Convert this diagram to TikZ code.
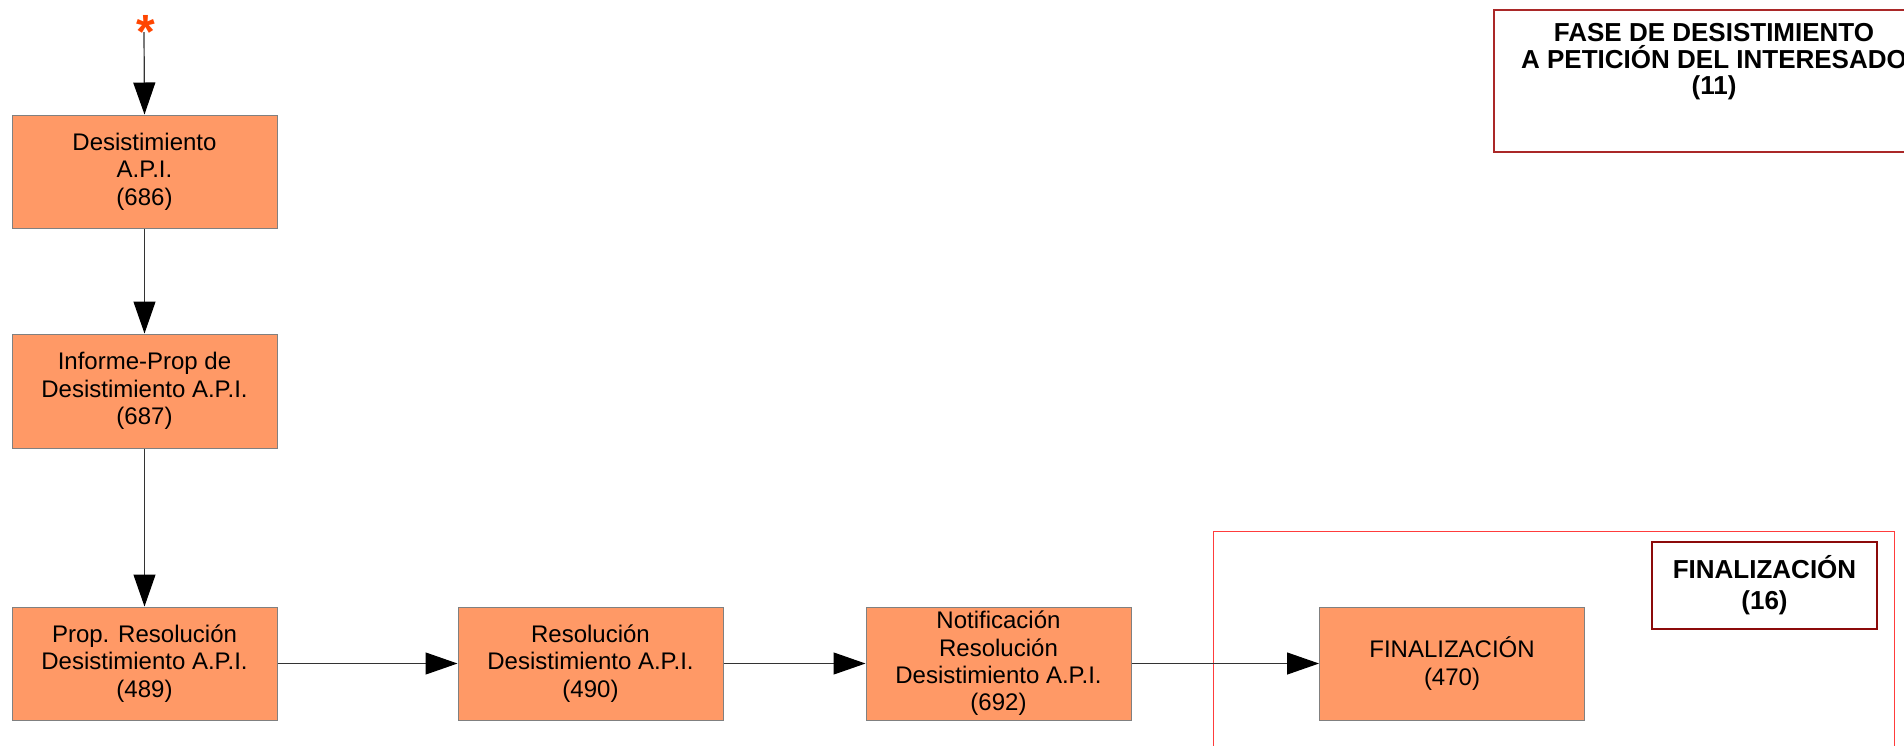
\documentclass[tikz,border=0pt]{standalone}
\usepackage{fontspec}
\setmainfont{Liberation Sans}
\usetikzlibrary{arrows.meta}
\definecolor{boxfill}{RGB}{255,153,102}
\definecolor{boxline}{RGB}{128,128,128}
\definecolor{framered}{RGB}{255,60,60}
\definecolor{titlered}{RGB}{170,40,40}
\definecolor{labelred}{RGB}{140,10,10}
\definecolor{starcol}{RGB}{255,69,0}
\tikzset{
  stepbox/.style={draw=boxline, line width=1pt, fill=boxfill, rectangle,
    minimum width=265pt, minimum height=113pt, inner sep=0pt,
    align=center, font=\fontsize{24}{27.3}\selectfont},
  flow/.style={draw=black!80, line width=1.2pt, -{Triangle[length=32pt,width=22pt,color=black,fill=black]}},
  titlebox/.style={draw=titlered, line width=1.2pt, rectangle, inner sep=0pt},
  groupframe/.style={draw=framered, line width=1.2pt, rectangle, inner sep=0pt}
}
\begin{document}
\begin{tikzpicture}[x=1pt,y=-1pt]
\useasboundingbox (0,0) rectangle (1904,745);
\clip (0,0) rectangle (1904,745);
\fill[white] (0,0) rectangle (1904,745);

% group frame FINALIZACION
\node[groupframe, minimum width=681pt, minimum height=260pt, anchor=north west] (finframe) at (1213,531) {};
\node[draw=labelred, line width=1.2pt, rectangle, inner sep=0pt, minimum width=225pt, minimum height=87pt,
  align=center, font=\fontsize{26}{31}\selectfont\bfseries] (finlabel) at (1764.5,585.5) {FINALIZACIÓN\\(16)};

% phase title box
\node[titlebox, minimum width=440pt, minimum height=142pt] (phase) at (1714,81) {};
\node[font=\fontsize{26}{26.5}\selectfont\bfseries, align=center, anchor=center, inner sep=0pt] (phasetext) at (1714,62)
  {FASE DE DESISTIMIENTO\\A PETICIÓN DEL INTERESADO\\(11)};

% star
\node[text=starcol, font=\fontsize{48}{48}\selectfont\bfseries, inner sep=0pt] (star) at (146,32) {*};
\coordinate (s0) at (144,32);

% boxes
\node[stepbox] (b686) at (144.5,171.5) {Desistimiento\\A.P.I.\\(686)};
\node[stepbox, minimum height=114pt] (b687) at (144.5,391) {Informe-Prop de\\Desistimiento A.P.I.\\(687)};
\node[stepbox] (b489) at (144.5,663.5) {Prop. Resolución\\Desistimiento A.P.I.\\(489)};
\node[stepbox] (b490) at (590.5,663.5) {Resolución\\Desistimiento A.P.I.\\(490)};
\node[stepbox] (b692) at (998.5,663.5) {Notificación\\Resolución\\Desistimiento A.P.I.\\(692)};
\node[stepbox] (b470) at (1452,663.5) {FINALIZACIÓN\\(470)};

% connectors
\draw[flow] (s0) -- (b686.north);
\draw[flow] (b686) -- (b687);
\draw[flow] (b687) -- (b489);
\draw[flow] (b489) -- (b490);
\draw[flow] (b490) -- (b692);
\draw[flow] (b692) -- (b470);
\end{tikzpicture}
\end{document}
